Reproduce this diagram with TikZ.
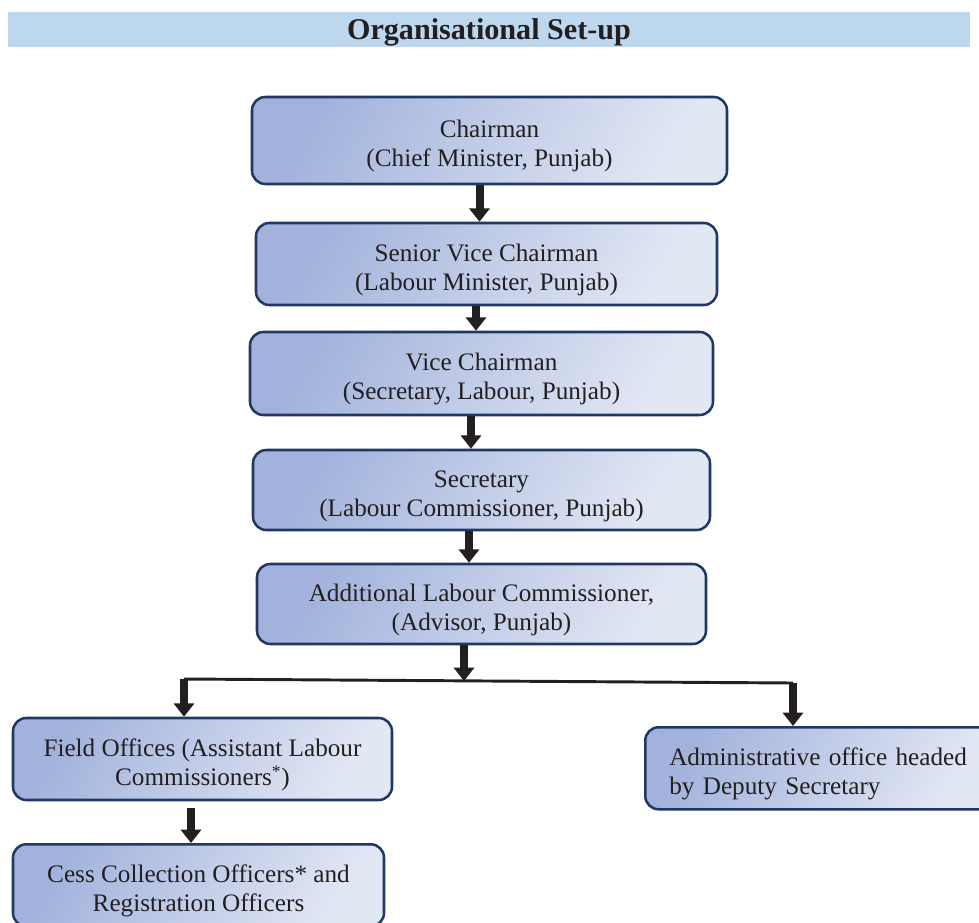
\documentclass[tikz,border=0pt]{standalone}
\usepackage{fontspec}
\setmainfont{Liberation Serif}
\usetikzlibrary{arrows.meta}
\definecolor{barblue}{HTML}{BDD7EE}
\definecolor{navy}{HTML}{1F3864}
\definecolor{boxA}{HTML}{A2B2DC}
\definecolor{boxB}{HTML}{E2E7F4}
\definecolor{ink}{HTML}{231F20}
\newcommand{\tstrut}{\rule{0pt}{22pt}}
\begin{document}
\begin{tikzpicture}[x=0.75pt,y=-0.75pt,
  orgbox/.style={draw=navy, line width=1.9pt, rounded corners=10pt,
    top color=boxA, bottom color=boxB, shading angle=60,
    text=ink, align=center, inner sep=0pt,
    font=\fontsize{18.9}{21.75}\selectfont},
  flow/.style={draw=ink, line width=6pt, -{Triangle[width=15pt,length=10pt]}},
  branchline/.style={draw=ink, line width=2.2pt}
]
\useasboundingbox (0,0) rectangle (979,922);
\clip (0,0) rectangle (979,922);

% title bar
\node[fill=barblue, minimum width=962*0.75pt, minimum height=35*0.75pt, inner sep=0pt,
      text depth=0pt, text=ink, font=\bfseries\fontsize{22.6}{26}\selectfont] (title) at (489,29.5) {Organisational Set-up};

% boxes
\node[orgbox, minimum width=475*0.75pt, minimum height=87*0.75pt] (chair) at (489.5,140.5)
  {\tstrut Chairman\\(Chief Minister, Punjab)};
\node[orgbox, minimum width=461*0.75pt, minimum height=82*0.75pt] (svc) at (486.5,264)
  {\tstrut Senior Vice Chairman\\(Labour Minister, Punjab)};
\node[orgbox, minimum width=463*0.75pt, minimum height=83*0.75pt] (vc) at (481.5,373.5)
  {\tstrut Vice Chairman\\(Secretary, Labour, Punjab)};
\node[orgbox, minimum width=457*0.75pt, minimum height=80*0.75pt] (sec) at (481.5,490)
  {\tstrut Secretary\\(Labour Commissioner, Punjab)};
\node[orgbox, minimum width=449*0.75pt, minimum height=80*0.75pt] (alc) at (481.5,604)
  {\tstrut Additional Labour Commissioner,\\(Advisor, Punjab)};
\node[orgbox, minimum width=379*0.75pt, minimum height=82*0.75pt] (field) at (202.5,759)
  {\tstrut Field Offices (Assistant Labour\\Commissioners\textsuperscript{*})};
\node[orgbox, anchor=north, minimum width=371*0.75pt, minimum height=82*0.75pt] (cess) at (198.5,843)
  {\tstrut Cess Collection Officers* and\\Registration Officers};
\node[orgbox, anchor=north west, align=left, text width=302*0.75pt, inner xsep=24*0.75pt,
      minimum height=82*0.75pt] (admin) at (644,726)
  {\tstrut Administrative office headed\\by Deputy Secretary};

% connectors
\draw[flow] (479.5,0 |- chair.south) -- (479.5,0 |- svc.north);
\draw[flow] (476,0 |- svc.south) -- (476,0 |- vc.north);
\draw[flow] (471,0 |- vc.south) -- (471,0 |- sec.north);
\draw[flow] (469,0 |- sec.south) -- (469,0 |- alc.north);

\coordinate (bl) at (184,679);
\coordinate (br) at (793,683);
\coordinate (bm) at (464,681);
\draw[flow] (464,0 |- alc.south) -- (bm);
\draw[branchline] (bl) -- (br);
\draw[flow] (bl) -- (bl |- field.north);
\draw[flow] (br) -- (br |- admin.north);
\draw[flow] (191,0 |- field.south) ++(0,7) -- (191,0 |- cess.north);
\end{tikzpicture}
\end{document}
